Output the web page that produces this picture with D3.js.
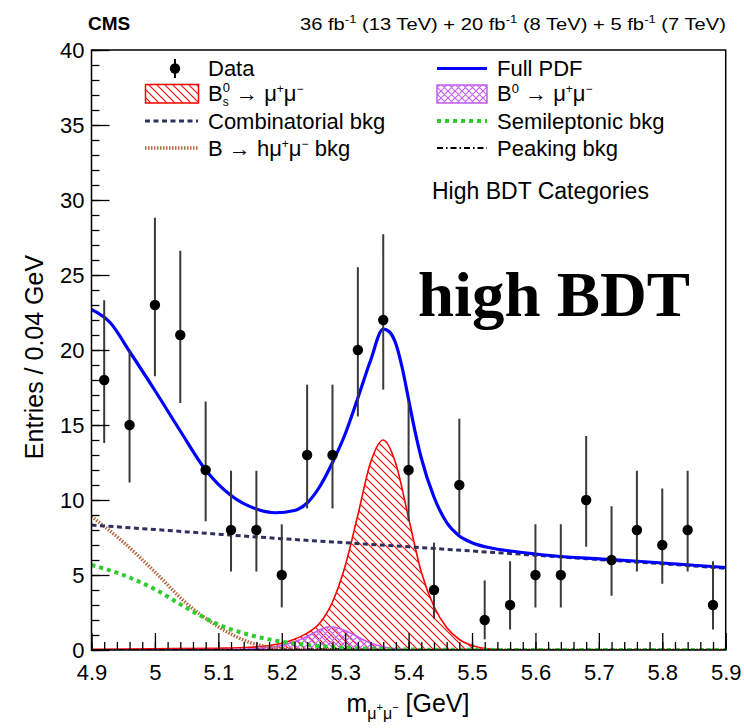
<!DOCTYPE html>
<html>
<head>
<meta charset="utf-8">
<script src="https://cdn.jsdelivr.net/npm/d3@7"></script>
<style>
  body { margin: 0; background: #fff; }
  svg { display: block; }
  text { font-family: "Liberation Sans", Arial, Helvetica, sans-serif; fill: #000; }
</style>
</head>
<body>
<svg id="chart" width="744" height="728"></svg>
<script>
// ---- observed events (bin centres, 0.04 GeV bins) ----
const binCenters = [4.92, 4.96, 5.00, 5.04, 5.08, 5.12, 5.16, 5.20, 5.24, 5.28, 5.32, 5.36, 5.40,
                    5.44, 5.48, 5.52, 5.56, 5.60, 5.64, 5.68, 5.72, 5.76, 5.80, 5.84, 5.88];
const entries   = [18, 15, 23, 21, 12, 8, 8, 5, 13, 13, 20, 22, 12, 4, 11, 2, 3, 5, 5, 10, 6, 8, 7, 8, 3];
const errLow    = [4.20, 3.83, 4.75, 4.54, 3.42, 2.77, 2.77, 2.16, 3.56, 3.56, 4.43, 4.64, 3.42,
                   1.91, 3.27, 1.29, 1.63, 2.16, 2.16, 3.11, 2.38, 2.77, 2.58, 2.77, 1.63];
const errHigh   = [5.32, 4.95, 5.81, 5.62, 4.56, 3.95, 3.95, 3.38, 4.69, 4.69, 5.52, 5.72, 4.56,
                   3.16, 4.42, 2.64, 2.92, 3.38, 3.38, 4.27, 3.58, 3.95, 3.77, 3.95, 2.92];

// ---- fit components, sampled along the mass axis ----
const fullPdfMass = [4.90, 4.93, 4.96, 5.00, 5.04, 5.08, 5.12, 5.16, 5.19, 5.22, 5.24, 5.26, 5.28, 5.30,
                     5.32, 5.34, 5.36, 5.37, 5.38, 5.39, 5.40, 5.41, 5.42, 5.44, 5.46, 5.48, 5.50, 5.53,
                     5.56, 5.60, 5.65, 5.70, 5.75, 5.80, 5.85, 5.90];
const fullPdf     = [22.7, 21.8, 19.9, 17.3, 14.6, 12.0, 10.3, 9.4, 9.15, 9.3, 9.8, 10.9, 12.5, 14.4,
                     16.8, 19.3, 21.4, 21.2, 20.4, 18.8, 16.7, 14.6, 12.8, 10.2, 8.5, 7.6, 7.15, 6.8,
                     6.6, 6.4, 6.2, 6.08, 5.95, 5.8, 5.65, 5.5];

const combMass = [4.90, 5.00, 5.10, 5.20, 5.30, 5.40, 5.50, 5.60, 5.70, 5.80, 5.90];
const combBkg  = [8.33, 8.03, 7.72, 7.42, 7.15, 6.88, 6.6, 6.32, 6.03, 5.75, 5.45];

const semiMass = [4.90, 4.95, 5.00, 5.05, 5.10, 5.15, 5.20, 5.25, 5.30, 5.35, 5.40, 5.50, 5.90];
const semiBkg  = [5.67, 5.0, 4.05, 2.8, 1.7, 1.0, 0.55, 0.3, 0.15, 0.07, 0.03, 0.01, 0.0];

const hmumuMass = [4.90, 4.95, 5.00, 5.05, 5.10, 5.15, 5.20, 5.25, 5.30, 5.90];
const hmumuBkg  = [8.9, 7.2, 5.2, 3.1, 1.55, 0.5, 0.1, 0.02, 0.0, 0.0];

const peakMass = [4.90, 5.10, 5.20, 5.28, 5.35, 5.45, 5.90];
const peakBkg  = [0.0, 0.01, 0.04, 0.08, 0.04, 0.01, 0.0];

const bsMass = [4.90, 5.00, 5.10, 5.15, 5.18, 5.20, 5.22, 5.24, 5.26, 5.28, 5.30, 5.32, 5.34, 5.36,
                5.38, 5.40, 5.42, 5.44, 5.46, 5.48, 5.50, 5.52, 5.55, 5.60, 5.90];
const bsSig  = [0.05, 0.08, 0.12, 0.18, 0.3, 0.45, 0.72, 1.12, 1.8, 3.2, 5.6, 9.0, 12.5, 14.0,
                12.4, 8.8, 5.2, 2.9, 1.5, 0.7, 0.3, 0.1, 0.02, 0.0, 0.0];

const bdMass = [4.90, 5.12, 5.16, 5.20, 5.22, 5.24, 5.26, 5.275, 5.29, 5.31, 5.33, 5.35, 5.37, 5.40, 5.45, 5.90];
const bdSig  = [0.0, 0.03, 0.1, 0.3, 0.55, 0.9, 1.35, 1.55, 1.45, 1.1, 0.65, 0.32, 0.13, 0.03, 0.0, 0.0];

// ---- axis ticks ----
const xMajorTicks = [4.9, 5.0, 5.1, 5.2, 5.3, 5.4, 5.5, 5.6, 5.7, 5.8, 5.9];
const xTickLabels = ["4.9", "5", "5.1", "5.2", "5.3", "5.4", "5.5", "5.6", "5.7", "5.8", "5.9"];
const yMajorTicks = [0, 5, 10, 15, 20, 25, 30, 35, 40];

// ---------------------------------------------------------------
const svg = d3.select("#chart");
const L = 91.5, R = 725.7, T = 50, B = 650;
const x = d3.scaleLinear().domain([4.9, 5.9]).range([L, R]);
const y = d3.scaleLinear().domain([0, 40]).range([B, T]);

const defs = svg.append("defs");
defs.append("clipPath").attr("id", "plotClip")
  .append("rect").attr("x", L).attr("y", T).attr("width", R - L).attr("height", B - T);

// red single hatch (\\\)
const pRed = defs.append("pattern").attr("id", "hatchRed").attr("patternUnits", "userSpaceOnUse")
  .attr("width", 8).attr("height", 8);
pRed.append("path").attr("d", "M0,0 L8,8 M-2,6 L2,10 M6,-2 L10,2")
  .attr("stroke", "#ff0000").attr("stroke-width", 1.1);

// violet cross hatch
const pViol = defs.append("pattern").attr("id", "hatchViolet").attr("patternUnits", "userSpaceOnUse")
  .attr("width", 7).attr("height", 7);
pViol.append("path").attr("d", "M0,0 L7,7 M-2,5 L2,9 M5,-2 L9,2 M0,7 L7,0 M-2,2 L2,-2 M5,9 L9,5")
  .attr("stroke", "#c25cf0").attr("stroke-width", 1.1);

// helper: text built from pieces with super/subscripts
function richText(parent, parts) {
  const g = parent.append("g");
  let cx = 0, lastStart = 0;
  parts.forEach(p => {
    const t = g.append("text")
      .attr("y", p.dy || 0)
      .style("font-size", p.size + "px")
      .style("font-weight", p.bold ? "bold" : null)
      .attr("xml:space", "preserve")
      .style("white-space", "pre")
      .text(p.t);
    const px = p.stack ? lastStart : cx;
    t.attr("x", px);
    const w = t.node().getComputedTextLength();
    if (p.stack) { cx = Math.max(cx, px + w); }
    else { lastStart = px; cx = px + w; }
  });
  return { g, width: cx };
}

const plot = svg.append("g").attr("clip-path", "url(#plotClip)");

const area = (xs, ys) => d3.area().curve(d3.curveMonotoneX)
  .x((d, i) => x(xs[i])).y0(y(0)).y1((d, i) => y(ys[i]))(ys);
const line = (xs, ys) => d3.line().curve(d3.curveMonotoneX)
  .x((d, i) => x(xs[i])).y((d, i) => y(ys[i]))(ys);

// Bs signal: hatched red
plot.append("path").attr("d", area(bsMass, bsSig))
  .attr("fill", "url(#hatchRed)").attr("stroke", "#ff0000").attr("stroke-width", 1.6);
// B0 signal: violet cross hatch
plot.append("path").attr("d", area(bdMass, bdSig))
  .attr("fill", "url(#hatchViolet)").attr("stroke", "#c25cf0").attr("stroke-width", 1.6);

// background shapes
plot.append("path").attr("d", line(peakMass, peakBkg)).attr("fill", "none")
  .attr("stroke", "#000").attr("stroke-width", 1.5).attr("stroke-dasharray", "6,3,1.5,3");
plot.append("path").attr("d", line(hmumuMass, hmumuBkg)).attr("fill", "none")
  .attr("stroke", "#b8673f").attr("stroke-width", 3.5).attr("stroke-dasharray", "1.5,1.5");
plot.append("path").attr("d", line(semiMass, semiBkg)).attr("fill", "none")
  .attr("stroke", "#2ecc2e").attr("stroke-width", 4).attr("stroke-dasharray", "4,4");
plot.append("path").attr("d", line(combMass, combBkg)).attr("fill", "none")
  .attr("stroke", "#30305f").attr("stroke-width", 3).attr("stroke-dasharray", "5,3.5");

// full fit
plot.append("path").attr("d", line(fullPdfMass, fullPdf)).attr("fill", "none")
  .attr("stroke", "#0000ff").attr("stroke-width", 3.2);

// data with asymmetric errors
const pts = plot.append("g");
binCenters.forEach((m, i) => {
  pts.append("line")
    .attr("x1", x(m)).attr("x2", x(m))
    .attr("y1", y(entries[i] - errLow[i])).attr("y2", y(entries[i] + errHigh[i]))
    .attr("stroke", "#3a3a3a").attr("stroke-width", 2);
  pts.append("circle").attr("cx", x(m)).attr("cy", y(entries[i])).attr("r", 5.2).attr("fill", "#000");
});

// ---- axes ----
const axisFont = "22px";
const yMinor = svg.append("g").attr("transform", `translate(${L},0)`)
  .call(d3.axisLeft(y).tickValues(d3.range(0, 41, 1)).tickSize(-8).tickFormat(""));
const yMajor = svg.append("g").attr("transform", `translate(${L},0)`)
  .call(d3.axisLeft(y).tickValues(yMajorTicks).tickSize(-18).tickPadding(7).tickFormat(d3.format("d")));
const xMinor = svg.append("g").attr("transform", `translate(0,${B})`)
  .call(d3.axisBottom(x).tickValues(d3.range(0, 51).map(i => 4.9 + i * 0.02)).tickSize(-8).tickFormat(""));
const xMajor = svg.append("g").attr("transform", `translate(0,${B})`)
  .call(d3.axisBottom(x).tickValues(xMajorTicks).tickSize(-17).tickPadding(14)
    .tickFormat((d, i) => xTickLabels[i]));
[yMinor, yMajor, xMinor, xMajor].forEach(a => {
  a.select(".domain").remove();
  a.selectAll(".tick line").attr("stroke", "#000").attr("stroke-width", 1.3);
  a.selectAll("text").style("font-size", axisFont)
    .style("font-family", '"Liberation Sans", Arial, sans-serif').attr("fill", "#000");
});

// frame
svg.append("rect").attr("x", L).attr("y", T).attr("width", R - L).attr("height", B - T)
  .attr("fill", "none").attr("stroke", "#000").attr("stroke-width", 1.5);

// ---- axis titles ----
const yt = richText(svg, [{ t: "Entries / 0.04 GeV", size: 25 }]);
yt.g.attr("transform", `translate(43,357) rotate(-90) translate(${-yt.width / 2},0)`);

const xt = richText(svg, [
  { t: "m", size: 25 },
  { t: "μ", size: 16, dy: 7 }, { t: "+", size: 11, dy: -1 },
  { t: "μ", size: 16, dy: 7 }, { t: "−", size: 11, dy: -1 },
  { t: " [GeV]", size: 25 }
]);
xt.g.attr("transform", `translate(${408 - xt.width / 2},712)`);

// ---- header ----
richText(svg, [{ t: "CMS", size: 19, bold: true }]).g.attr("transform", "translate(88,30)");
const lumi = richText(svg, [
  { t: "36 fb", size: 17 }, { t: "-1", size: 11, dy: -7 },
  { t: " (13 TeV) + 20 fb", size: 17 }, { t: "-1", size: 11, dy: -7 },
  { t: " (8 TeV) + 5 fb", size: 17 }, { t: "-1", size: 11, dy: -7 },
  { t: " (7 TeV)", size: 17 }
]);
const lumiScale = 426 / lumi.width;
lumi.g.attr("transform", `translate(726,30) scale(${lumiScale},1) translate(${-lumi.width},0)`);

// ---- legend ----
const leg = svg.append("g");
const legFont = 22;
// Data
leg.append("line").attr("x1", 175).attr("x2", 175).attr("y1", 59).attr("y2", 78)
  .attr("stroke", "#000").attr("stroke-width", 2);
leg.append("circle").attr("cx", 175).attr("cy", 68.5).attr("r", 5.2).attr("fill", "#000");
richText(leg, [{ t: "Data", size: legFont }]).g.attr("transform", "translate(208,76)");
// Bs
leg.append("rect").attr("x", 145.5).attr("y", 84.5).attr("width", 53).attr("height", 18.5)
  .attr("fill", "url(#hatchRed)").attr("stroke", "#ff0000").attr("stroke-width", 1.5);
richText(leg, [
  { t: "B", size: legFont }, { t: "0", size: 13, dy: -9 }, { t: "s", size: 12, dy: 5, stack: true },
  { t: " → μ", size: legFont }, { t: "+", size: 12, dy: -8 },
  { t: "μ", size: legFont }, { t: "−", size: 12, dy: -8 }
]).g.attr("transform", "translate(208,101)");
// Combinatorial
leg.append("line").attr("x1", 145).attr("x2", 198).attr("y1", 121).attr("y2", 121)
  .attr("stroke", "#30305f").attr("stroke-width", 3).attr("stroke-dasharray", "5,3.5");
richText(leg, [{ t: "Combinatorial bkg", size: legFont }]).g.attr("transform", "translate(208,129)");
// B -> h mu mu
leg.append("line").attr("x1", 145).attr("x2", 198).attr("y1", 148).attr("y2", 148)
  .attr("stroke", "#b8673f").attr("stroke-width", 3.5).attr("stroke-dasharray", "1.5,1.5");
richText(leg, [
  { t: "B → hμ", size: legFont }, { t: "+", size: 12, dy: -8 },
  { t: "μ", size: legFont }, { t: "−", size: 12, dy: -8 }, { t: " bkg", size: legFont }
]).g.attr("transform", "translate(208,156)");

// right column
leg.append("line").attr("x1", 437).attr("x2", 487).attr("y1", 68.5).attr("y2", 68.5)
  .attr("stroke", "#0000ff").attr("stroke-width", 3);
richText(leg, [{ t: "Full PDF", size: legFont }]).g.attr("transform", "translate(497,76)");
leg.append("rect").attr("x", 437).attr("y", 85).attr("width", 50).attr("height", 18)
  .attr("fill", "url(#hatchViolet)").attr("stroke", "#c25cf0").attr("stroke-width", 1.5);
richText(leg, [
  { t: "B", size: legFont }, { t: "0", size: 13, dy: -8 },
  { t: " → μ", size: legFont }, { t: "+", size: 12, dy: -8 },
  { t: "μ", size: legFont }, { t: "−", size: 12, dy: -8 }
]).g.attr("transform", "translate(497,101)");
leg.append("line").attr("x1", 437).attr("x2", 487).attr("y1", 121).attr("y2", 121)
  .attr("stroke", "#2ecc2e").attr("stroke-width", 4).attr("stroke-dasharray", "4,4");
richText(leg, [{ t: "Semileptonic bkg", size: legFont }]).g.attr("transform", "translate(497,129)");
leg.append("line").attr("x1", 437).attr("x2", 487).attr("y1", 148).attr("y2", 148)
  .attr("stroke", "#000").attr("stroke-width", 1.8).attr("stroke-dasharray", "6,3,1.5,3");
richText(leg, [{ t: "Peaking bkg", size: legFont }]).g.attr("transform", "translate(497,156)");

richText(leg, [{ t: "High BDT Categories", size: 23 }]).g.attr("transform", "translate(432,199)");

// big category tag
svg.append("text").attr("x", 418).attr("y", 316)
  .style("font-family", '"Liberation Serif", "Times New Roman", serif')
  .style("font-weight", "bold").style("font-size", "63px")
  .attr("textLength", 272).attr("lengthAdjust", "spacingAndGlyphs")
  .text("high BDT");
</script>
</body>
</html>
